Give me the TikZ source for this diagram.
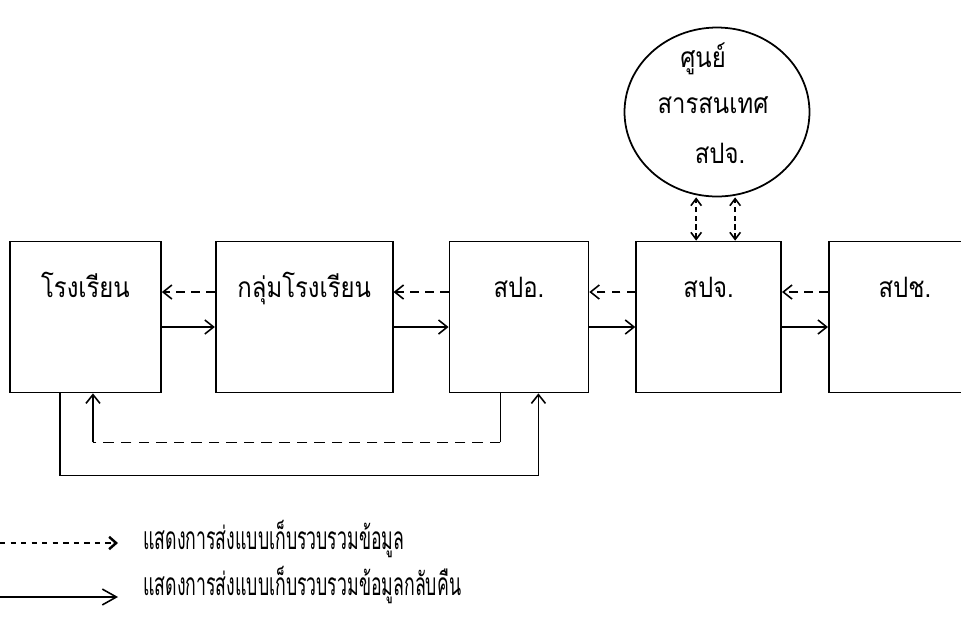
\documentclass[tikz,border=0pt]{standalone}
\usepackage{fontspec}
\newfontfamily\thaifont[Script=Thai,FakeStretch=0.85]{Loma}
\newfontfamily\thainarrow[Script=Thai,FakeStretch=0.56]{Loma}
\usetikzlibrary{
    shapes.geometric,
    arrows.meta,
    positioning,
    calc
}
\tikzset{
    sbox/.style={
        rectangle, draw=black, line width=1pt, fill=white,
        minimum height=3.02cm, text height=0.4cm, text depth=1.2cm,
        inner sep=0pt, font=\thaifont\fontsize{16}{19}\selectfont
    },
    shub/.style={
        ellipse, draw=black, line width=1pt, minimum width=3.7cm,
        minimum height=3.38cm, inner sep=0pt
    },
    shubtext/.style={
        anchor=base, inner sep=0pt, font=\thaifont\fontsize{16}{19}\selectfont
    },
    sline/.style={line width=0.9pt},
    dline/.style={line width=0.9pt, dash pattern=on 5pt off 3.5pt},
    barb/.style={-{Straight Barb[length=5pt, width=8pt]}},
    dbarb/.style={{Straight Barb[length=4pt, width=6pt]}-{Straight Barb[length=4pt, width=6pt]}},
    slegend/.style={anchor=west, inner sep=0pt, font=\thainarrow\fontsize{18}{20}\selectfont},
}

\begin{document}
\begin{tikzpicture}[x=0.02cm, y=-0.02cm]
    \clip (0,0) rectangle (961,637);

    % boxes
    \node [sbox, minimum width=3.02cm] (b1) at (85.5,317) {โรงเรียน};
    \node [sbox, minimum width=3.54cm, right=1.06cm of b1] (b2) {กลุ่มโรงเรียน};
    \node [sbox, minimum width=2.78cm, right=1.1cm of b2] (b3) {สปอ.};
    \node [sbox, minimum width=2.9cm, right=0.92cm of b3] (b4) {สปจ.};
    \node [sbox, minimum width=3.2cm, right=0.92cm of b4] (b5) {\hspace*{-0.16cm}สปช.};

    % information centre
    \node [shub] (hub) at (717,112) {};
    \node [shubtext] (hubl1) at ($(hub.center)+(-14,-45)$) {ศูนย์};
    \node [shubtext] (hubl2) at ($(hub.center)+(-4,1)$) {สารสนเทศ};
    \node [shubtext] (hubl3) at ($(hub.center)+(3,51)$) {สปจ.};

    % collect / return between neighbours
    \foreach \a/\b in {b1/b2, b2/b3, b3/b4, b4/b5} {
        \draw [dline, barb] ([yshift=0.5cm]\b.west) -- ([yshift=0.5cm]\a.east);
        \draw [sline, barb] ([yshift=-0.2cm]\a.east) -- ([yshift=-0.2cm]\b.west);
    }

    % hub <-> province
    \coordinate (h1) at ([xshift=-0.25cm]b4.north);
    \coordinate (h2) at ([xshift=0.53cm]b4.north);
    \draw [dline, dash pattern=on 3pt off 2pt, dbarb] (h1) -- (h1 |- hub.south);
    \draw [dline, dash pattern=on 3pt off 2pt, dbarb] (h2) -- (h2 |- hub.south);

    % district -> school (dashed)
    \coordinate (rin) at ([xshift=0.15cm]b1.south);
    \draw [sline] ([xshift=-0.37cm]b3.south) -- ++(0,49) coordinate (dc1);
    \draw [dline, dash pattern=on 6pt off 4pt] (dc1) -- (dc1 -| rin) coordinate (dc2);
    \draw [sline, barb] (dc2) -- (rin);

    % school -> district (solid)
    \coordinate (sout) at ([xshift=-0.51cm]b1.south);
    \coordinate (sin) at ([xshift=0.39cm]b3.south);
    \draw [sline, barb] (sout) -- ++(0,82) -| (sin);

    % legend
    \coordinate (l1a) at (0,543);
    \coordinate (l1b) at (118,543);
    \coordinate (l2a) at (0,597);
    \coordinate (l2b) at (118,597);
    \draw [line width=0.9pt, dash pattern=on 3pt off 3pt, -{Straight Barb[length=4pt, width=7pt, line width=1.4pt]}] (l1a) -- (l1b);
    \draw [sline, -{Straight Barb[length=8pt, width=9pt]}] (l2a) -- (l2b);
    \node [slegend] (lg1) at (143,539) {แสดงการส่งแบบเก็บรวบรวมข้อมูล};
    \node [slegend] (lg2) at (143,585) {แสดงการส่งแบบเก็บรวบรวมข้อมูลกลับคืน};

\end{tikzpicture}
\end{document}
